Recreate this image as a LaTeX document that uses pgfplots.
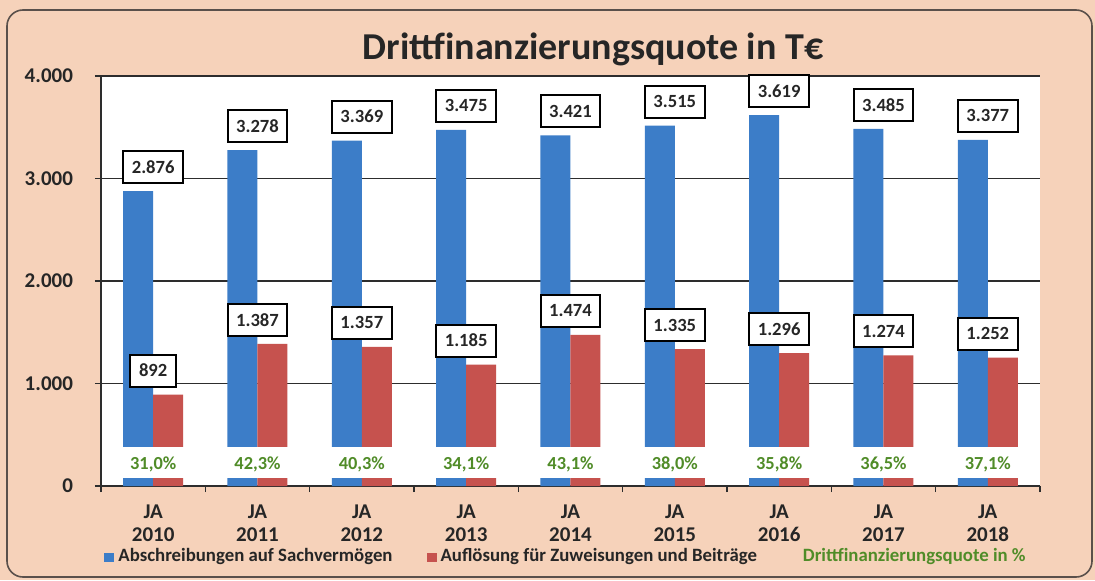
\documentclass[border=0pt]{standalone}
\usepackage{pgfplots}
\pgfplotsset{compat=1.18}
\usepackage{fontspec}
\setmainfont{Carlito}
\definecolor{peach}{RGB}{246,210,186}
\definecolor{barblue}{RGB}{60,125,200}
\definecolor{barred}{RGB}{198,82,78}
\definecolor{dfgreen}{RGB}{80,140,40}
\definecolor{framec}{RGB}{90,80,75}
\definecolor{gridc}{RGB}{45,45,45}
\begin{document}
\begin{tikzpicture}
\fill[peach] (-50.5pt,-47pt) rectangle (497pt,243pt);
\draw[rounded corners=8pt, draw=framec, line width=0.8pt] (-47pt,-45.5pt) rectangle (495.5pt,238pt);
\node[font=\bfseries\fontsize{19}{23}\selectfont, text=black!85] at (246pt,218.5pt) {Drittfinanzierungsquote in T€};
\begin{axis}[
  at={(0,0)}, anchor=south west,
  scale only axis, width=469.5pt, height=205pt,
  xmin=-0.5, xmax=8.5, ymin=0, ymax=4000,
  axis background/.style={fill=white},
  axis x line*=bottom, axis y line*=left,
  axis line style={draw=gridc, line width=0.9pt},
  ytick={0,1000,2000,3000,4000},
  ymajorgrids, grid style={draw=gridc, line width=0.8pt},
  xtick={0,...,8},
  xticklabels={JA\\2010,JA\\2011,JA\\2012,JA\\2013,JA\\2014,JA\\2015,JA\\2016,JA\\2017,JA\\2018},
  major x tick style={draw=none},
  minor xtick={-0.5,0.5,...,8.5},
  minor x tick style={draw=gridc, line width=0.8pt},
  minor tick length=3pt,
  major tick length=3pt,
  tick align=outside,
  y tick style={draw=gridc, line width=0.8pt},
  /pgf/number format/.cd, 1000 sep={.}, assume math mode=true, /pgfplots/.cd,
  ticklabel style={font=\bfseries\fontsize{10.5}{11.5}\selectfont, text=black!85},
  xticklabel style={align=center, yshift=-3pt},
  yticklabel style={xshift=-7.5pt},
  legend columns=3,
  legend style={at={(0,0)}, anchor=west, xshift=-1.5pt, yshift=-35pt, draw=none, fill=none,
    font=\bfseries\fontsize{9.4}{11}\selectfont, text=black!85,
    /tikz/every even column/.append style={column sep=15pt}},
  clip=false,
]
\addplot[ybar, bar width=15pt, bar shift=-7.5pt, fill=barblue, draw=none,
  legend image code/.code={\fill[barblue] (0pt,-3.2pt) rectangle (5pt,1.6pt);},
  nodes near coords, point meta=y,
  every node near coord/.append style={draw=black, line width=1pt, fill=white, anchor=south, yshift=3.5pt,
    font=\bfseries\fontsize{9.3}{11}\selectfont, text=black!85, inner xsep=4.3pt, minimum height=16pt}]
  coordinates {(0,2876) (1,3278) (2,3369) (3,3475) (4,3421) (5,3515) (6,3619) (7,3485) (8,3377)};
\addlegendentry{Abschreibungen auf Sachvermögen}
\addplot[ybar, bar width=15pt, bar shift=7.5pt, fill=barred, draw=none,
  legend image code/.code={\fill[barred] (0pt,-3.2pt) rectangle (5pt,1.6pt);},
  nodes near coords, point meta=y,
  every node near coord/.append style={draw=black, line width=1pt, fill=white, anchor=south, yshift=3.5pt,
    font=\bfseries\fontsize{9.3}{11}\selectfont, text=black!85, inner xsep=4.3pt, minimum height=16pt}]
  coordinates {(0,892) (1,1387) (2,1357) (3,1185) (4,1474) (5,1335) (6,1296) (7,1274) (8,1252)};
\addlegendentry{Auflösung für Zuweisungen und Beiträge}
\fill[white] (axis cs:-0.485,78) rectangle (axis cs:8.5,380);
\addplot[draw=none, mark=none, legend image code/.code={},
  nodes near coords={\pgfmathprintnumber[fixed,fixed zerofill,precision=1,use comma]{\pgfplotspointmeta}\%},
  point meta=explicit,
  every node near coord/.append style={anchor=center, text=dfgreen, font=\bfseries\fontsize{9.2}{11}\selectfont}]
  table[meta=pct] {
x y pct
0 215 31.0
1 215 42.3
2 215 40.3
3 215 34.1
4 215 43.1
5 215 38.0
6 215 35.8
7 215 36.5
8 215 37.1
};
\addlegendentry{\hspace{4pt}\textcolor{dfgreen}{Drittfinanzierungsquote in \%}}
\end{axis}
\end{tikzpicture}
\end{document}
